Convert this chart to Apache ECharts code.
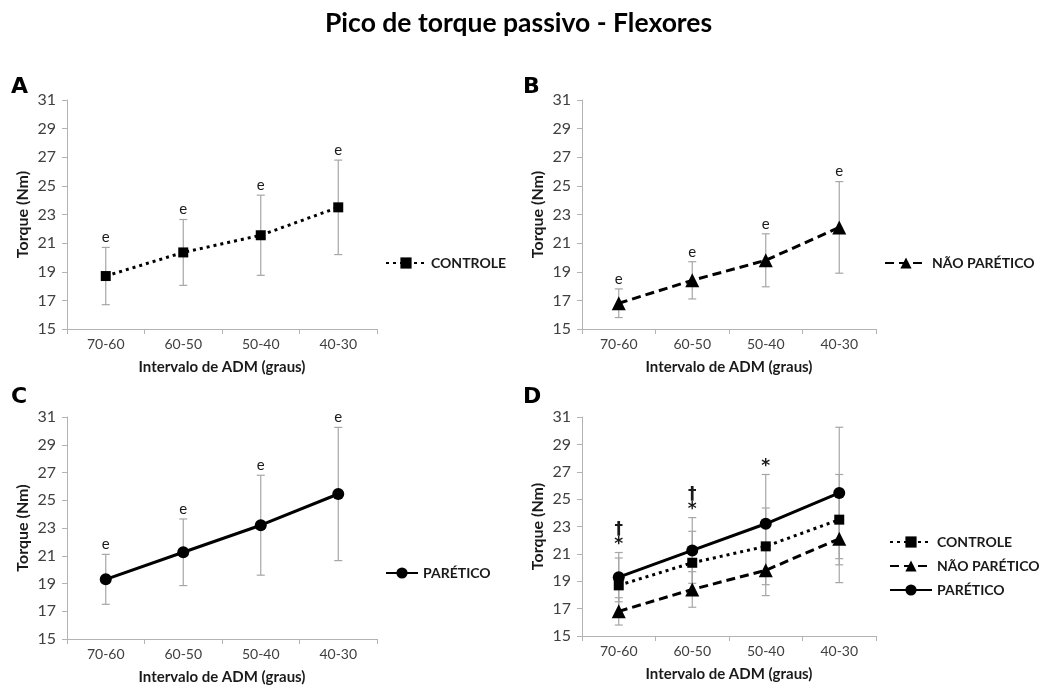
<!DOCTYPE html>
<html>
<head>
<meta charset="utf-8">
<script src="https://cdn.jsdelivr.net/npm/echarts@6/dist/echarts.min.js"></script>
<style>
  html, body { margin: 0; padding: 0; background: #fff; }
  #main { width: 1039px; height: 688px; }
</style>
</head>
<body>
<div id="main"></div>
<script>
// dados
const categories = ['70-60', '60-50', '50-40', '40-30'];
const controleMean = [18.7, 20.35, 21.55, 23.5];
const controleSd = [2.0, 2.3, 2.8, 3.3];
const naoPareticoMean = [16.8, 18.4, 19.8, 22.1];
const naoPareticoSd = [1.0, 1.3, 1.85, 3.2];
const pareticoMean = [19.3, 21.25, 23.2, 25.45];
const pareticoSd = [1.8, 2.4, 3.6, 4.8];
// marcas de significância, de cima para baixo
const marksSingle = [['e'], ['e'], ['e'], ['e']];
const marksD = [['†', '*'], ['†', '*'], ['*'], []];
const yMin = 15, yMax = 31, yStep = 2;

const FONT = 'Lato, "Open Sans", sans-serif';
const AXIS_GREY = '#b3b3b3';

const styles = {
  'CONTROLE': { symbol: 'rect', symbolSize: 10, lineStyle: { color: '#000', width: 3, type: [3, 4] } },
  'NÃO PARÉTICO': { symbol: 'triangle', symbolSize: 14, lineStyle: { color: '#000', width: 3, type: [9, 5] } },
  'PARÉTICO': { symbol: 'circle', symbolSize: 12, lineStyle: { color: '#000', width: 3, type: 'solid' } }
};

function errData(mean, sd) {
  return mean.map((m, i) => [i, m - sd[i], m + sd[i]]);
}

// glyphs whose ink sits high in the box get pushed down a little
const glyphShift = { '*': 4, '†': 3, 'e': 0 };

function errorBarItem(marks, font, gap, step) {
  return function (params, api) {
    const i = api.value(0);
    const top = api.coord([i, api.value(2)]);
    const bot = api.coord([i, api.value(1)]);
    const x = top[0], w = 4;
    const st = { stroke: '#a6a6a6', lineWidth: 1.2 };
    const children = [
      { type: 'line', shape: { x1: x, y1: top[1], x2: x, y2: bot[1] }, style: st },
      { type: 'line', shape: { x1: x - w, y1: top[1], x2: x + w, y2: top[1] }, style: st },
      { type: 'line', shape: { x1: x - w, y1: bot[1], x2: x + w, y2: bot[1] }, style: st }
    ];
    const m = marks ? marks[i] : [];
    const n = m.length;
    m.forEach((t, j) => {
      const k = n - 1 - j;
      children.push({
        type: 'text', x: x, y: top[1] - gap - step * k + (glyphShift[t] || 0),
        style: { text: t, font: font, fill: '#1a1a1a', align: 'center', verticalAlign: 'middle' }
      });
    });
    return { type: 'group', children: children };
  };
}

const grids = [
  { left: 67, top: 100, width: 310, height: 229 },
  { left: 582, top: 100, width: 294, height: 229 },
  { left: 67, top: 417, width: 310, height: 222 },
  { left: 582, top: 417, width: 294, height: 219 }
];

const xAxes = grids.map((g, k) => ({
  type: 'category', gridIndex: k, data: categories, boundaryGap: true,
  name: 'Intervalo de ADM (graus)', nameLocation: 'middle', nameGap: 31,
  nameTextStyle: { fontFamily: FONT, fontWeight: 'bold', fontSize: 15, color: '#1a1a1a' },
  axisLine: { lineStyle: { color: AXIS_GREY, width: 1 } },
  axisTick: { show: true, alignWithLabel: false, length: 5, lineStyle: { color: AXIS_GREY } },
  axisLabel: { fontFamily: FONT, fontSize: 14, color: '#404040', margin: 8 },
  splitLine: { show: false }
}));

const yAxes = grids.map((g, k) => ({
  type: 'value', gridIndex: k, min: yMin, max: yMax, interval: yStep,
  name: 'Torque (Nm)', nameLocation: 'middle', nameGap: 36, nameRotate: 90,
  nameTextStyle: { fontFamily: FONT, fontWeight: 'bold', fontSize: 16, color: '#1a1a1a' },
  axisLine: { show: true, lineStyle: { color: AXIS_GREY, width: 1 } },
  axisTick: { show: true, length: 5, lineStyle: { color: AXIS_GREY } },
  axisLabel: { fontFamily: FONT, fontSize: 16, color: '#404040', margin: 11 },
  splitLine: { show: false }
}));

function lineSeries(name, mean, k) {
  const s = styles[name];
  return {
    name: name, type: 'line', xAxisIndex: k, yAxisIndex: k, data: mean,
    symbol: s.symbol, symbolSize: s.symbolSize, lineStyle: s.lineStyle,
    itemStyle: { color: '#000' }, z: 3, silent: true, animation: false
  };
}
function errSeries(mean, sd, k, marks, font, gap, step) {
  return {
    type: 'custom', xAxisIndex: k, yAxisIndex: k, data: errData(mean, sd),
    renderItem: errorBarItem(marks, font, gap, step), z: 1, silent: true, animation: false
  };
}

const eFont = '15px ' + FONT;
const starFont = 'bold 17px "DejaVu Sans", sans-serif';

const series = [
  errSeries(controleMean, controleSd, 0, marksSingle, eFont, 10, 0),
  lineSeries('CONTROLE', controleMean, 0),
  errSeries(naoPareticoMean, naoPareticoSd, 1, marksSingle, eFont, 10, 0),
  lineSeries('NÃO PARÉTICO', naoPareticoMean, 1),
  errSeries(pareticoMean, pareticoSd, 2, marksSingle, eFont, 10, 0),
  lineSeries('PARÉTICO', pareticoMean, 2),
  errSeries(controleMean, controleSd, 3, null),
  errSeries(naoPareticoMean, naoPareticoSd, 3, null),
  errSeries(pareticoMean, pareticoSd, 3, marksD, starFont, 12, 14),
  lineSeries('CONTROLE', controleMean, 3),
  lineSeries('NÃO PARÉTICO', naoPareticoMean, 3),
  lineSeries('PARÉTICO', pareticoMean, 3)
];

const legendText = { fontFamily: FONT, fontWeight: 'bold', fontSize: 14, color: '#1a1a1a' };
function legend(names, left, top, itemWidth) {
  return {
    data: names, left: left, top: top, orient: 'vertical', itemGap: 10, padding: 0,
    itemWidth: itemWidth, itemHeight: 14, textStyle: legendText, selectedMode: false
  };
}

function panelLetter(txt, x, y) {
  return {
    type: 'text', left: x, top: y,
    style: { text: txt, font: 'bold 22px "DejaVu Sans", sans-serif', fill: '#000' }
  };
}

const chart = echarts.init(document.getElementById('main'));
chart.setOption({
  backgroundColor: '#fff',
  animation: false,
  title: {
    text: 'Pico de torque passivo - Flexores', left: 320, top: 5,
    textStyle: { fontFamily: FONT, fontWeight: 'bold', fontSize: 26.5, color: '#000' }
  },
  grid: grids,
  xAxis: xAxes,
  yAxis: yAxes,
  legend: [
    legend(['CONTROLE'], 385, 256, 40),
    legend(['NÃO PARÉTICO'], 884, 256, 42),
    legend(['PARÉTICO'], 385, 566, 32),
    legend(['CONTROLE', 'NÃO PARÉTICO', 'PARÉTICO'], 889, 535, 42)
  ],
  graphic: [
    panelLetter('A', 11, 76),
    panelLetter('B', 523, 76),
    panelLetter('C', 11, 386),
    panelLetter('D', 523, 386)
  ],
  series: series
});
window.addEventListener('resize', () => chart.resize());
</script>
</body>
</html>
